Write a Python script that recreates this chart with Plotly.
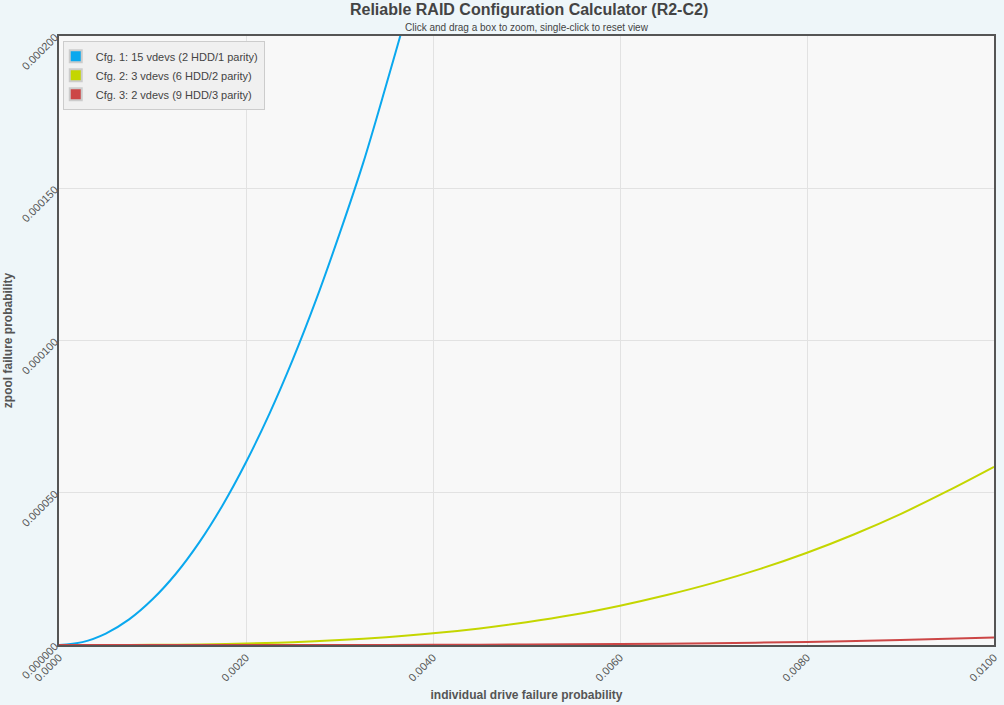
import plotly.graph_objects as go

# individual drive failure probability (x) and zpool failure probability (y)
x_cfg1 = [0.0, 0.00025, 0.0005, 0.00075, 0.001, 0.00125, 0.0015, 0.00175, 0.002,
          0.00225, 0.0025, 0.00275, 0.003, 0.00325, 0.0035, 0.00375, 0.004]
y_cfg1 = [0.0, 0.00000094, 0.00000375, 0.0000084, 0.000015, 0.0000234, 0.0000337,
          0.0000459, 0.00006, 0.0000759, 0.0000937, 0.0001134, 0.000135, 0.000158,
          0.000184, 0.000211, 0.00024]

x_cfg2 = [0.0, 0.0005, 0.001, 0.0015, 0.002, 0.0025, 0.003, 0.0035, 0.004, 0.0045, 0.005,
          0.0055, 0.006, 0.0065, 0.007, 0.0075, 0.008, 0.0085, 0.009, 0.0095, 0.01]
y_cfg2 = [0.0, 0.0000000075, 0.00000006, 0.0000002, 0.00000048, 0.00000094, 0.00000162,
          0.00000257, 0.00000383, 0.00000545, 0.00000746, 0.0000099, 0.0000129, 0.0000164,
          0.0000204, 0.000025, 0.0000303, 0.0000363, 0.000043, 0.0000505, 0.0000585]

x_cfg3 = [0.0, 0.001, 0.002, 0.003, 0.004, 0.005, 0.006, 0.007, 0.008, 0.009, 0.01]
y_cfg3 = [0.0, 0.00000000025, 0.000000004, 0.00000002, 0.000000064, 0.000000156,
          0.000000324, 0.0000006, 0.00000102, 0.00000163, 0.00000247]

names = ["Cfg. 1: 15 vdevs (2 HDD/1 parity)",
         "Cfg. 2: 3 vdevs (6 HDD/2 parity)",
         "Cfg. 3: 2 vdevs (9 HDD/3 parity)"]
colors = ["#0aa8ee", "#c4d600", "#cc4646"]

x_ticks = [0.0, 0.002, 0.004, 0.006, 0.008, 0.01]
y_ticks = [0.0, 0.00005, 0.0001, 0.00015, 0.0002]

fig = go.Figure()

series = [(x_cfg1, y_cfg1), (x_cfg2, y_cfg2), (x_cfg3, y_cfg3)]
for (xs, ys), name, color in zip(series, names, colors):
    fig.add_trace(go.Scatter(x=xs, y=ys, mode="lines", name=name,
                             line=dict(color=color, width=2, shape="spline"),
                             showlegend=False, hoverinfo="x+y"))

# square swatches for the legend, like the original
for name, color in zip(names, colors):
    fig.add_trace(go.Scatter(x=[None], y=[None], mode="markers", name=name,
                             marker=dict(symbol="square", size=13, color=color,
                                         line=dict(color="#cccccc", width=1))))

fig.update_layout(
    width=1004, height=705,
    margin=dict(l=59, r=5, t=36, b=60),
    paper_bgcolor="#eef6f9",
    plot_bgcolor="#f8f8f8",
    font=dict(family="Liberation Sans, Arial, sans-serif", color="#555555", size=11),
    title=dict(
        text="<b>Reliable RAID Configuration Calculator (R2-C2)</b>",
        x=0.527, xanchor="center", y=0.986, yanchor="middle",
        font=dict(size=16, color="#444444"),
    ),
    annotations=[dict(
        text="Click and drag a box to zoom, single-click to reset view",
        xref="paper", yref="paper", x=0.5, y=1.0145, xanchor="center", yanchor="middle",
        showarrow=False, font=dict(size=10, color="#444444"),
    )],
    legend=dict(x=0.004, y=0.992, xanchor="left", yanchor="top",
                bgcolor="#f0f0f0", bordercolor="#cccccc", borderwidth=1,
                font=dict(size=11, color="#444444"), tracegroupgap=0,
                itemwidth=30, indentation=-8, itemsizing="constant"),
    xaxis=dict(
        range=[0, 0.01], tickvals=x_ticks, tickformat=".4f", tickangle=-45,
        showgrid=True, gridcolor="#e2e2e2", zeroline=False,
        showline=True, linecolor="#555555", linewidth=1.5, mirror=True,
        ticks="", tickfont=dict(size=11, color="#555555"),
        title=dict(text="<b>individual drive failure probability</b>",
                   font=dict(size=12, color="#555555"), standoff=8),
    ),
    yaxis=dict(
        range=[0, 0.0002], tickvals=y_ticks, tickformat=".6f", tickangle=-45,
        showgrid=True, gridcolor="#e2e2e2", zeroline=False,
        showline=True, linecolor="#555555", linewidth=1.5, mirror=True,
        ticks="", tickfont=dict(size=11, color="#555555"),
        title=dict(text="<b>zpool failure probability</b>",
                   font=dict(size=12, color="#555555"), standoff=4),
    ),
)

fig.write_html("out.html", config={"displayModeBar": False},
               post_script="document.body.style.margin='0';")
